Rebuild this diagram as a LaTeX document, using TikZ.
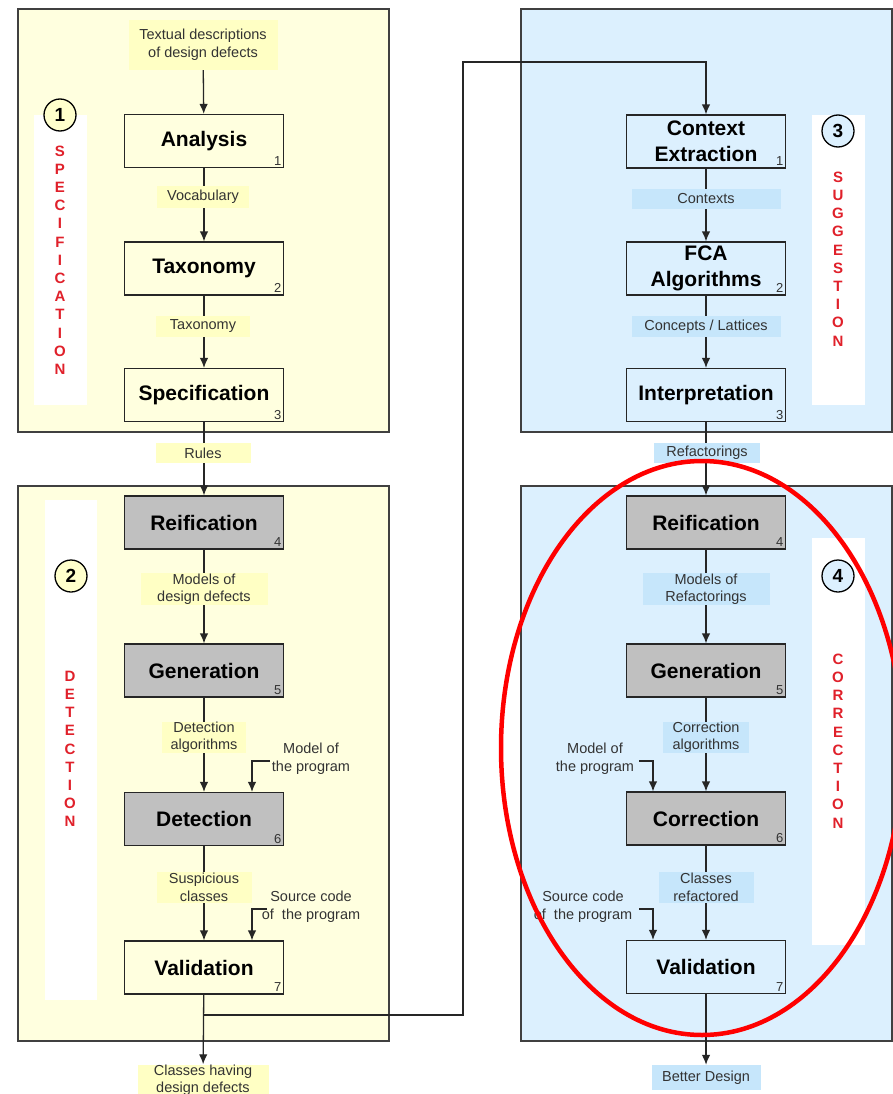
\documentclass[tikz,border=0pt]{standalone}
\usepackage{fontspec}
\setmainfont{Liberation Sans}
\usetikzlibrary{arrows.meta,calc}
\definecolor{ypanel}{HTML}{FFFFDF}
\definecolor{ylabel}{HTML}{FFFFC4}
\definecolor{ycircle}{HTML}{FFFFCC}
\definecolor{bpanel}{HTML}{DCF0FE}
\definecolor{blabel}{HTML}{C6E6FB}
\definecolor{gbox}{HTML}{C0C0C0}
\definecolor{edgec}{HTML}{404040}
\definecolor{vred}{HTML}{E0202A}
\definecolor{ink}{HTML}{333333}
\begin{document}
\begin{tikzpicture}[x=1pt,y=-1pt,
  panel/.style={draw=edgec,line width=1.4pt},
  strip/.style={fill=white,draw=none},
  stepbox/.style={draw=black!85,line width=1.2pt,minimum width=159pt,minimum height=53pt,
    inner sep=0pt,align=center,font=\fontsize{21}{26}\selectfont\bfseries},
  ybox/.style={stepbox,fill=ypanel},
  bbox/.style={stepbox,fill=bpanel},
  gray box/.style={stepbox,fill=gbox},
  num/.style={anchor=south east,inner sep=2.5pt,font=\fontsize{13}{13}\selectfont,text=ink},
  lbl/.style={inner sep=0pt,align=center,font=\fontsize{14.5}{17.5}\selectfont,text=ink},
  ylbl/.style={lbl,fill=ylabel},
  blbl/.style={lbl,fill=blabel},
  side/.style={inner sep=0pt,align=center,font=\fontsize{14.5}{18}\selectfont,text=ink},
  vert/.style={align=center,inner sep=0pt,text=vred,font=\fontsize{15}{18.2}\selectfont\bfseries},
  phase/.style={circle,draw=black,line width=1.3pt,minimum size=32pt,inner sep=0pt,
    font=\fontsize{19}{19}\selectfont\bfseries},
  arr/.style={draw=black!85,line width=1.3pt,-{Latex[length=10pt,width=8.5pt]}},
  wire/.style={draw=black!85,line width=1.3pt}]

\useasboundingbox (0,0) rectangle (893,1094);
\fill[white] (0,0) rectangle (893,1094);

% ---- phase panels ----
\draw[panel,fill=ypanel] (18,9) rectangle (389,432);
\draw[panel,fill=ypanel] (18,486) rectangle (389,1041);
\draw[panel,fill=bpanel] (521,9) rectangle (892,432);
\draw[panel,fill=bpanel] (521,486) rectangle (892,1041);

% ---- side strips with phase numbers and names ----
\fill[strip] (34,115) rectangle (87,405);
\fill[strip] (45,500) rectangle (97,1000);
\fill[strip] (812,115) rectangle (865,405);
\fill[strip] (812,538) rectangle (865,945);

\node[phase,fill=ycircle] (p1) at (60,115) {1};
\node[phase,fill=ycircle] (p2) at (71,576) {2};
\node[phase,fill=bpanel] (p3) at (838,131) {3};
\node[phase,fill=bpanel] (p4) at (838,576) {4};

\node[vert] (v1) at (60,260) {S\\P\\E\\C\\I\\F\\I\\C\\A\\T\\I\\O\\N};
\node[vert] (v2) at (70,749) {D\\E\\T\\E\\C\\T\\I\\O\\N};
\node[vert] (v3) at (838,259) {S\\U\\G\\G\\E\\S\\T\\I\\O\\N};
\node[vert] (v4) at (838,741) {C\\O\\R\\R\\E\\C\\T\\I\\O\\N};

% ---- steps: detection side ----
\node[ybox] (an) at (204,141) {Analysis};
\node[ybox] (tx) at (204,268.5) {Taxonomy};
\node[ybox] (sp) at (204,395) {Specification};
\node[gray box] (re1) at (204,522.5) {Reification};
\node[gray box] (ge1) at (204,670.5) {Generation};
\node[gray box] (de) at (204,819) {Detection};
\node[ybox] (va1) at (204,967.5) {Validation};

% ---- steps: correction side ----
\node[bbox] (ce) at (706,141.5) {Context\\Extraction};
\node[bbox] (fca) at (706,268.5) {FCA\\Algorithms};
\node[bbox] (in) at (706,395) {Interpretation};
\node[gray box] (re2) at (706,522.5) {Reification};
\node[gray box] (ge2) at (706,670.5) {Generation};
\node[gray box] (co) at (706,818.5) {Correction};
\node[bbox] (va2) at (706,967) {Validation};

% step numbers
\node[num] at (an.south east) {1};
\node[num] at (tx.south east) {2};
\node[num] at (sp.south east) {3};
\node[num] at (re1.south east) {4};
\node[num] at (ge1.south east) {5};
\node[num] at (de.south east) {6};
\node[num] at (va1.south east) {7};
\node[num] at (ce.south east) {1};
\node[num] at (fca.south east) {2};
\node[num] at (in.south east) {3};
\node[num] at (re2.south east) {4};
\node[num] at (ge2.south east) {5};
\node[num] at (co.south east) {6};
\node[num] at (va2.south east) {7};

% ---- inputs and outputs ----
\node[ylbl,minimum width=149pt,minimum height=50pt] (tdd) at (203,45) {Textual descriptions\\of design defects};
\node[ylbl,minimum width=131pt,minimum height=30pt] (chd) at (203,1080) {Classes having\\design defects};
\node[blbl,minimum width=109pt,minimum height=25pt] (bd) at (706,1077.5) {Better Design};

\node[side] (mp1) at (311,759) {Model of\\the program};
\node[side] (sc1) at (311,907) {Source code\\of~ the program};
\node[side] (mp2) at (595,759) {Model of\\the program};
\node[side] (sc2) at (583,907) {Source code\\of~ the program};
\coordinate (h1) at (270,761);
\coordinate (h2) at (267,909);
\coordinate (h3) at (639,761);
\coordinate (h4) at (639,909);

% ---- connectors ----
\draw[arr] (tdd) -- (an);
\draw[arr] (an) -- (tx);
\draw[arr] (tx) -- (sp);
\draw[arr] (sp) -- (re1);
\draw[arr] (re1) -- (ge1);
\draw[arr] (ge1) -- (de);
\draw[arr] (de) -- (va1);
\draw[arr] (va1) -- (chd);

\draw[arr] (ce) -- (fca);
\draw[arr] (fca) -- (in);
\draw[arr] (in) -- (re2);
\draw[arr] (re2) -- (ge2);
\draw[arr] (ge2) -- (co);
\draw[arr] (co) -- (va2);
\draw[arr] (va2) -- (bd);

\draw[arr] (h1) -| ([xshift=48pt]de.north);
\draw[arr] (h2) -| ([xshift=48pt]va1.north);
\draw[arr] (h3) -| ([xshift=-53pt]co.north);
\draw[arr] (h4) -| ([xshift=-53pt]va2.north);

% detected classes feed the suggestion phase
\coordinate (j) at (204,1015);
\coordinate (k) at (463,62);
\draw[wire,-{Latex[length=10pt,width=8.5pt]}] (j) -- (j -| k) -- (k) -| (ce.north);

% ---- labels on the connectors ----
\node[ylbl,minimum width=92pt,minimum height=22pt] at (203,197) {Vocabulary};
\node[ylbl,minimum width=94pt,minimum height=21pt] at (203,326.5) {Taxonomy};
\node[ylbl,minimum width=95pt,minimum height=20pt] at (203,453) {Rules};
\node[ylbl,minimum width=127pt,minimum height=28pt] at (204,589) {Models of\\design defects};
\node[ylbl,minimum width=84pt,minimum height=31pt] at (204,737) {Detection\\algorithms};
\node[ylbl,minimum width=95pt,minimum height=31pt] at (204,887.5) {Suspicious\\classes};

\node[blbl,minimum width=149pt,minimum height=20pt] at (706,199) {Contexts};
\node[blbl,minimum width=149pt,minimum height=21pt] at (706,326.5) {Concepts / Lattices};
\node[blbl,minimum width=106pt,minimum height=20pt] at (707,453) {Refactorings};
\node[blbl,minimum width=127pt,minimum height=28pt] at (706,589) {Models of\\Refactorings};
\node[blbl,minimum width=86pt,minimum height=31pt] at (706,737) {Correction\\algorithms};
\node[blbl,minimum width=95pt,minimum height=31pt] at (706,887.5) {Classes\\refactored};

% ---- highlight around the correction phase ----
\draw[red,line width=4.5pt] (702,748) ellipse [x radius=201, y radius=287];
\end{tikzpicture}
\end{document}
